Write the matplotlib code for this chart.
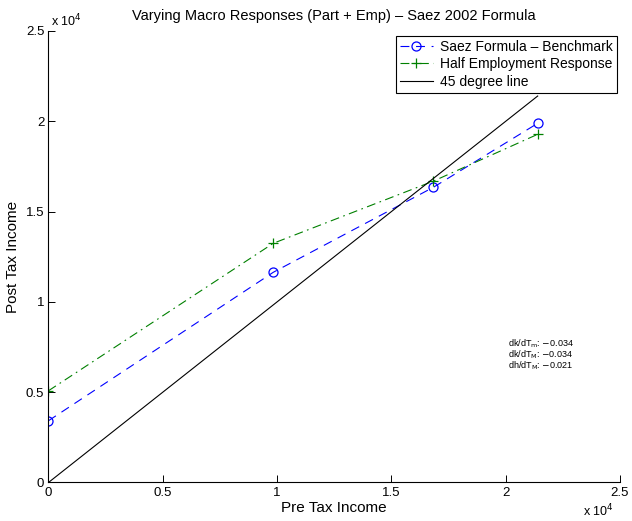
import matplotlib
matplotlib.use('Agg')
import matplotlib.pyplot as plt
from matplotlib.ticker import FuncFormatter

plt.rcParams['font.family'] = ['Liberation Sans', 'DejaVu Sans']

# values
pre_tax = [0, 9834, 16842, 21400]
post_bench = [3420, 11640, 16350, 19890]
post_half = [5080, 13245, 16690, 19280]
line45 = [0, 21400]
notes = [r'dk/dT$_\mathrm{m}$: $-$0.034', r'dk/dT$_\mathrm{M}$: $-$0.034',
         r'dh/dT$_\mathrm{M}$: $-$0.021']

fig = plt.figure(figsize=(6.32, 5.21), dpi=100)
ax = fig.add_axes([0.0767, 0.0739, 0.9043, 0.8666])

ax.plot(pre_tax, post_bench, color='b', marker='o', mfc='none', dashes=(8, 6),
        ms=6.5, lw=0.8, mew=0.9, label='Saez Formula \u2013 Benchmark')
ax.plot(pre_tax, post_half, color=(0, 0.5, 0), marker='+', dashes=(8, 4, 1.5, 4),
        ms=7, lw=0.8, mew=0.9, label='Half Employment Response')
ax.plot(line45, line45, '-', color='k', lw=0.8, label='45 degree line')

ax.set_xlim(0, 25000)
ax.set_ylim(0, 25000)
ticks = [0, 5000, 10000, 15000, 20000, 25000]
ax.set_xticks(ticks)
ax.set_yticks(ticks)
fmt = FuncFormatter(lambda v, p: '%g' % (v / 1e4))
ax.xaxis.set_major_formatter(fmt)
ax.yaxis.set_major_formatter(fmt)
ax.tick_params(direction='in', length=5, width=0.7, labelsize=9.5, pad=3)
ax.spines['top'].set_visible(False)
ax.spines['right'].set_visible(False)
for s in ['left', 'bottom']:
    ax.spines[s].set_linewidth(0.8)

ax.set_title('Varying Macro Responses (Part + Emp) \u2013 Saez 2002 Formula',
             fontsize=10.5, pad=8)
ax.set_xlabel('Pre Tax Income', fontsize=11, labelpad=2)
ax.set_ylabel('Post Tax Income', fontsize=11, labelpad=4)

fig.text(0.08, 0.975, r'x 10$^4$', fontsize=9, va='top')
fig.text(0.923, 0.003, r'x 10$^4$', fontsize=9, va='bottom')

leg = ax.legend(loc='upper right', bbox_to_anchor=(0.995, 0.99), fontsize=10,
                fancybox=False, edgecolor='k', framealpha=1, handlelength=2.4,
                borderpad=0.3, labelspacing=0.25, handletextpad=0.5,
                borderaxespad=0)
leg.get_frame().set_linewidth(0.8)

for i, t in enumerate(notes):
    ax.text(0.804, 0.307 - i * 0.0245, t, transform=ax.transAxes,
            fontsize=6.5, va='center')

fig.savefig('out.png', dpi=100)
